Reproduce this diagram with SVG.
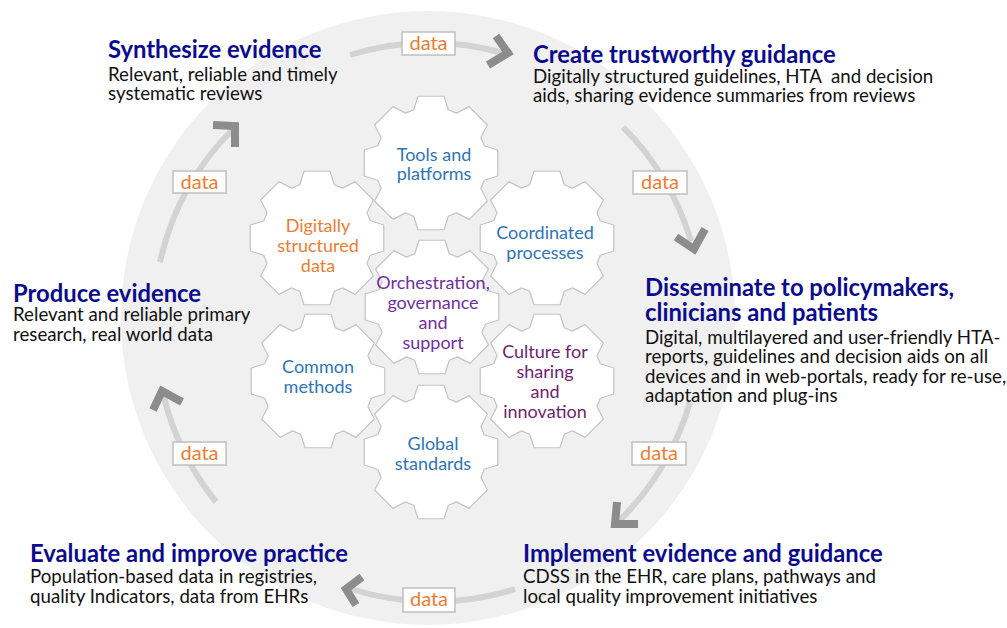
<svg xmlns="http://www.w3.org/2000/svg" width="1007" height="628" viewBox="0 0 1007 628">
<style>
.title{font-family:Lato,"Liberation Sans",sans-serif;font-weight:bold;font-size:23.8px;fill:#0b0b8e}
.body{font-family:Lato,"Liberation Sans",sans-serif;font-size:18.7px;fill:#111}
.gt{font-family:Lato,"Liberation Sans",sans-serif;font-size:18px;text-anchor:middle}
.blue{fill:#2e75b6}.orange{fill:#ed7d31}.purple{fill:#7030a0}.plum{fill:#6f1f6f}
.gear{fill:#fff;stroke:#c4c4c4;stroke-width:1.2;stroke-linejoin:round}
.arc{fill:none;stroke:#d3d3d3;stroke-width:6}
.head{fill:none;stroke:#8c8c8c;stroke-width:8;stroke-linejoin:miter}
.dbox{fill:#fff;stroke:#bfbfbf;stroke-width:1.5}
.dt{font-family:Lato,"Liberation Sans",sans-serif;font-size:20px;fill:#ed7d31;text-anchor:middle}
</style>
<defs>
<polygon id="gearShape" points="53.26,-17.30 66.75,-12.97 66.75,12.97 53.26,17.30 49.90,25.42 56.37,38.03 38.03,56.37 25.42,49.90 17.30,53.26 12.97,66.75 -12.97,66.75 -17.30,53.26 -25.42,49.90 -38.03,56.37 -56.37,38.03 -49.90,25.42 -53.26,17.30 -66.75,12.97 -66.75,-12.97 -53.26,-17.30 -49.90,-25.42 -56.37,-38.03 -38.03,-56.37 -25.42,-49.90 -17.30,-53.26 -12.97,-66.75 12.97,-66.75 17.30,-53.26 25.42,-49.90 38.03,-56.37 56.37,-38.03 49.90,-25.42"/>
</defs>
<rect width="1007" height="628" fill="#fff"/>
<circle cx="428" cy="318" r="307" fill="#f0f0f0"/>

<g id="connectors">
  <path class="arc" d="M350,55 A272,272 0 0 1 503,53"/>
  <polyline class="head" points="496,36 508,53 488,65"/>
  <path class="arc" d="M623,127 A272,272 0 0 1 691,241"/>
  <polyline class="head" points="676,237 694,249 705,229"/>
  <path class="arc" d="M690,402 A272,272 0 0 1 619,521"/>
  <polyline class="head" points="617,502 615,524 638,524"/>
  <path class="arc" d="M515,589 A272,272 0 0 1 348,588"/>
  <polyline class="head" points="362,577 346,589 356,605"/>
  <path class="arc" d="M216,502 A272,272 0 0 1 163,393"/>
  <polyline class="head" points="153,410 162,391 182,402"/>
  <path class="arc" d="M160,262 A272,272 0 0 1 233,129"/>
  <polyline class="head" points="213,125 235,126 235,147"/>
  <g id="data1"><rect class="dbox" x="402" y="32" width="53" height="23"/><text class="dt" x="428.5" y="50">data</text></g>
  <g id="data2"><rect class="dbox" x="633" y="171" width="54" height="23"/><text class="dt" x="660" y="189">data</text></g>
  <g id="data3"><rect class="dbox" x="632" y="442" width="54" height="23"/><text class="dt" x="659" y="460">data</text></g>
  <g id="data4"><rect class="dbox" x="403" y="588" width="52" height="24"/><text class="dt" x="429" y="606">data</text></g>
  <g id="data5"><rect class="dbox" x="173" y="442" width="53" height="23"/><text class="dt" x="199.5" y="460">data</text></g>
  <g id="data6"><rect class="dbox" x="173" y="171" width="53" height="22"/><text class="dt" x="199.5" y="189">data</text></g>
</g>

<g id="gear-tools"><use href="#gearShape" class="gear" transform="translate(431,163)"/>
  <text class="gt blue" x="434" y="161">Tools and</text><text class="gt blue" x="434" y="180">platforms</text></g>
<g id="gear-digital"><use href="#gearShape" class="gear" transform="translate(317,238)"/>
  <text class="gt orange" x="318" y="232">Digitally</text><text class="gt orange" x="318" y="252">structured</text><text class="gt orange" x="318" y="272">data</text></g>
<g id="gear-coord"><use href="#gearShape" class="gear" transform="translate(547,238)"/>
  <text class="gt blue" x="545" y="239">Coordinated</text><text class="gt blue" x="545" y="259">processes</text></g>
<g id="gear-common"><use href="#gearShape" class="gear" transform="translate(318,381)"/>
  <text class="gt blue" x="318" y="373">Common</text><text class="gt blue" x="318" y="393">methods</text></g>
<g id="gear-culture"><use href="#gearShape" class="gear" transform="translate(547,381)"/>
  <text class="gt plum" x="545" y="358">Culture for</text><text class="gt plum" x="545" y="378">sharing</text><text class="gt plum" x="545" y="398">and</text><text class="gt plum" x="545" y="418">innovation</text></g>
<g id="gear-global"><use href="#gearShape" class="gear" transform="translate(431,452)"/>
  <text class="gt blue" x="433" y="450">Global</text><text class="gt blue" x="433" y="470">standards</text></g>
<g id="gear-orch"><use href="#gearShape" class="gear" transform="translate(432,307)"/>
  <text class="gt purple" x="433" y="289">Orchestration,</text><text class="gt purple" x="433" y="309">governance</text><text class="gt purple" x="433" y="329">and</text><text class="gt purple" x="433" y="349">support</text></g>

<g id="synthesize">
  <text class="title" x="108" y="58">Synthesize evidence</text>
  <text class="body" x="108" y="81">Relevant, reliable and timely</text>
  <text class="body" x="108" y="100">systematic reviews</text>
</g>
<g id="create">
  <text class="title" x="533" y="63">Create trustworthy guidance</text>
  <text class="body" x="533" y="83" xml:space="preserve">Digitally structured guidelines, HTA  and decision</text>
  <text class="body" x="533" y="102">aids, sharing evidence summaries from reviews</text>
</g>
<g id="produce">
  <text class="title" x="13" y="302">Produce evidence</text>
  <text class="body" x="13" y="321">Relevant and reliable primary</text>
  <text class="body" x="13" y="341">research, real world data</text>
</g>
<g id="disseminate">
  <text class="title" x="645" y="296">Disseminate to policymakers,</text>
  <text class="title" x="645" y="321">clinicians and patients</text>
  <text class="body" x="645" y="344">Digital, multilayered and user-friendly HTA-</text>
  <text class="body" x="645" y="363">reports, guidelines and decision aids on all</text>
  <text class="body" x="645" y="383">devices and in web-portals, ready for re-use,</text>
  <text class="body" x="645" y="402">adaptation and plug-ins</text>
</g>
<g id="implement">
  <text class="title" x="523" y="562">Implement evidence and guidance</text>
  <text class="body" x="523" y="583">CDSS in the EHR, care plans, pathways and</text>
  <text class="body" x="523" y="603">local quality improvement initiatives</text>
</g>
<g id="evaluate">
  <text class="title" x="30" y="562">Evaluate and improve practice</text>
  <text class="body" x="30" y="583">Population-based data in registries,</text>
  <text class="body" x="30" y="603">quality Indicators, data from EHRs</text>
</g>
</svg>
